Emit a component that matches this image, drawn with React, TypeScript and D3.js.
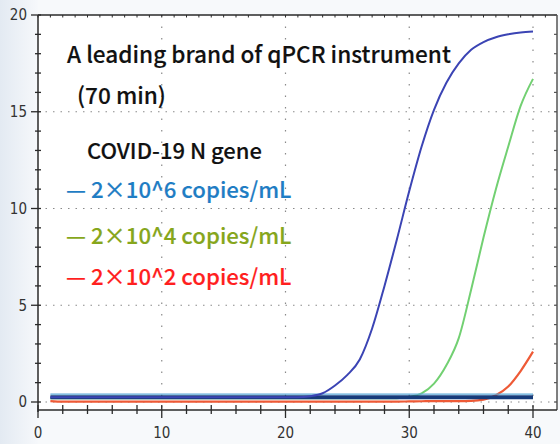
import React from "react";
import * as d3 from "d3";

const cycles = [1,2,3,4,5,6,7,8,9,10,11,12,13,14,15,16,17,18,19,20,21,22,23,24,25,26,27,28,29,30,31,32,33,34,35,36,37,38,39,40];
const blueSeries = [0.25,0.25,0.25,0.25,0.25,0.25,0.25,0.25,0.25,0.25,0.25,0.25,0.25,0.25,0.25,0.25,0.25,0.25,0.25,0.25,0.25,0.3,0.45,0.85,1.4,2.2,3.8,6.0,8.4,10.9,13.2,15.1,16.5,17.5,18.2,18.6,18.85,19.0,19.1,19.15];
const greenSeries = [0.2,0.2,0.2,0.2,0.2,0.2,0.2,0.2,0.2,0.2,0.2,0.2,0.2,0.2,0.2,0.2,0.2,0.2,0.2,0.2,0.2,0.2,0.2,0.2,0.2,0.2,0.2,0.2,0.2,0.27,0.45,0.95,1.9,3.3,5.8,8.5,11.0,13.2,15.3,16.7];
const redSeries = [0.05,0.02,0.02,0.02,0.02,0.02,0.02,0.02,0.02,0.02,0.02,0.02,0.02,0.02,0.02,0.02,0.02,0.02,0.02,0.02,0.02,0.02,0.02,0.02,0.02,0.02,0.02,0.02,0.02,0.03,0.04,0.05,0.05,0.05,0.06,0.12,0.35,0.8,1.6,2.6];
const baselineValue = 0.25;

const yTicks = [0, 5, 10, 15, 20];
const xTicks = [0, 10, 20, 30, 40];

const titleLines = ["A leading brand of qPCR instrument", "(70 min)", "COVID-19 N gene"];
const legendLabels = ["— 2×10^6 copies/mL", "— 2×10^4 copies/mL", "— 2×10^2 copies/mL"];
const legendColors = ["#1f7dc4", "#86a61c", "#ff1f1f"];

export default function App() {
  const W = 560, H = 444;
  const left = 38, right = 557, top = 15, bottom = 410;
  const x = d3.scaleLinear().domain([0, 40]).range([38, 533]);
  const y = d3.scaleLinear().domain([0, 20]).range([402, 15]);

  const line = d3
    .line<number>()
    .x((_, i) => x(cycles[i]))
    .y((d) => y(d))
    .curve(d3.curveMonotoneX);

  const flat = d3
    .line<number>()
    .x((d) => x(d))
    .y(() => y(baselineValue));

  const flatHi = d3
    .line<number>()
    .x((d) => x(d))
    .y(() => y(baselineValue) - 3);

  const yMinor = d3.range(0, 21, 1);
  const xMinor = d3.range(0, 42, 2);
  const topMinor = d3.range(0, 42, 1);

  const tickFont = "'Liberation Sans Narrow', 'DejaVu Sans Condensed', sans-serif";
  const textFont = "'Noto Sans CJK SC', 'Noto Sans', sans-serif";
  const axisColor = "#2a2a2a";
  const gridColor = "#8a8a8a";

  return (
    <svg
      width={W}
      height={H}
      style={{ position: "absolute", left: 0, top: 0, display: "block" }}
    >
      <defs>
        <linearGradient id="bgL" x1="0" x2="1" y1="0" y2="0">
          <stop offset="0" stopColor="#e3eaf2" />
          <stop offset="1" stopColor="#f6f8fb" />
        </linearGradient>
      </defs>
      <rect x={0} y={0} width={W} height={H} fill="#f7f9fb" />
      <rect x={0} y={0} width={left} height={H} fill="url(#bgL)" />
      <rect x={left} y={top} width={right - left} height={bottom - top} fill="#ffffff" />

      {/* grid */}
      {yTicks.filter((t) => t !== 20).map((t) => (
        <line key={"gy" + t} x1={left} x2={right} y1={y(t)} y2={y(t)} stroke={gridColor} strokeWidth={1.2} strokeDasharray="1.5,6" />
      ))}
      {xTicks.filter((t) => t !== 0).map((t) => (
        <line key={"gx" + t} x1={x(t)} x2={x(t)} y1={top} y2={bottom} stroke={gridColor} strokeWidth={1.2} strokeDasharray="1.5,10" />
      ))}

      {/* frame */}
      <line x1={left} x2={right} y1={top} y2={top} stroke={axisColor} strokeWidth={1.5} />
      <line x1={right} x2={right} y1={top} y2={bottom} stroke="#555" strokeWidth={1.5} />
      <line x1={left} x2={left} y1={top} y2={bottom + 2} stroke={axisColor} strokeWidth={1.5} />
      <line x1={left} x2={right} y1={bottom} y2={bottom} stroke={axisColor} strokeWidth={1.5} />

      {/* y ticks */}
      {yMinor.map((t) => (
        <g key={"yt" + t}>
          <line x1={t % 5 === 0 ? left - 7 : left - 3} x2={left + 3} y1={y(t)} y2={y(t)} stroke={axisColor} strokeWidth={1.3} />
          <line x1={right - 3} x2={right} y1={y(t)} y2={y(t)} stroke="#555" strokeWidth={1.2} />
        </g>
      ))}
      {yTicks.map((t) => (
        <text key={"yl" + t} x={27} y={y(t)} dy="0.36em" textAnchor="end" fontFamily={tickFont} fontSize={15} fill="#333">
          {t}
        </text>
      ))}

      {/* top ticks */}
      {topMinor.map((t) => (
        <line key={"tt" + t} x1={x(t)} x2={x(t)} y1={top} y2={top + 2.5} stroke={axisColor} strokeWidth={1} />
      ))}

      {/* x ticks */}
      {xMinor.map((t) => (
        <line key={"xt" + t} x1={x(t)} x2={x(t)} y1={bottom - 5} y2={t % 10 === 0 ? bottom + 8 : bottom + 4} stroke={axisColor} strokeWidth={1.3} />
      ))}
      {xTicks.map((t) => (
        <text key={"xl" + t} x={x(t)} y={433} dy="0.36em" textAnchor="middle" fontFamily={tickFont} fontSize={15} fill="#333">
          {t}
        </text>
      ))}

      {/* curves */}
      <path d={line(redSeries) || ""} fill="none" stroke="#ee5a36" strokeWidth={2.2} />
      <path d={line(greenSeries) || ""} fill="none" stroke="#72d072" strokeWidth={2} />
      <path d={flatHi([cycles[0], cycles[cycles.length - 1]]) || ""} fill="none" stroke="#5aa8d8" strokeWidth={1.2} />
      <path d={flat([cycles[0], cycles[cycles.length - 1]]) || ""} fill="none" stroke="#163b7a" strokeWidth={4} />
      <path d={line(blueSeries) || ""} fill="none" stroke="#3b44b4" strokeWidth={2} />

      {/* text */}
      <g fontFamily={textFont} fontWeight={500} strokeWidth={0.15}>
        <text x={67} y={63} fontSize={22.6} fill="#111" stroke="#111">{titleLines[0]}</text>
        <text x={77} y={104} fontSize={22.6} fill="#111" stroke="#111">{titleLines[1]}</text>
        <text x={87} y={159} fontSize={22} fill="#111" stroke="#111">{titleLines[2]}</text>
        {legendLabels.map((l, i) => (
          <text key={l} x={66} y={[198, 244, 285][i]} fontSize={22.2} fill={legendColors[i]} stroke={legendColors[i]}>
            {l}
          </text>
        ))}
      </g>
    </svg>
  );
}
